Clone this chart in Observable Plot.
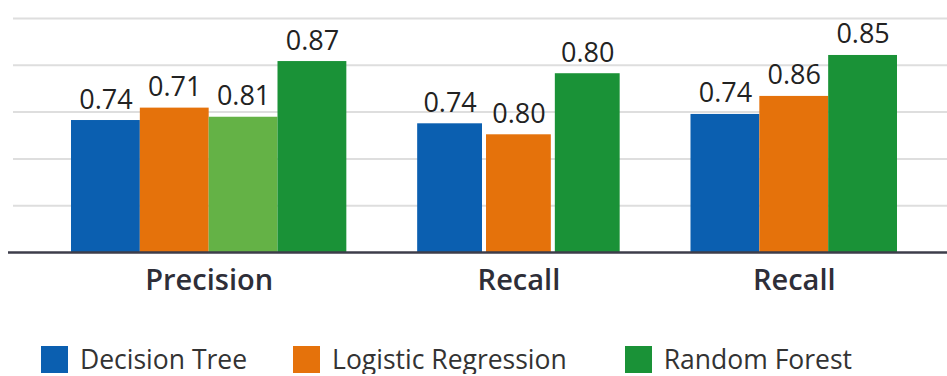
<!DOCTYPE html>
<html><head><meta charset="utf-8">
<script src="https://cdn.jsdelivr.net/npm/d3@7"></script>
<script src="https://cdn.jsdelivr.net/npm/@observablehq/plot@0.6"></script>
<style>
body{margin:0;background:#fff;font-family:"Open Sans",sans-serif;overflow:hidden;}
#legend{display:flex;align-items:center;padding-left:41px;padding-top:26px;}
.item{display:flex;align-items:center;font-size:26.5px;line-height:30px;color:#333;}
.sw{width:27px;height:27px;margin-right:12px;}
</style></head><body><div id="chart"></div><div id="legend"></div>
<script>
// Data
const groupKeys = ["g1","g2","g3"];
const groupNames = ["Precision","Recall","Recall"];
const seriesNames = ["Decision Tree","Logistic Regression","Random Forest"];
const seriesColors = ["#0b5fb0","#e5720b","#1a9237"];
const extraSeries = "Extra";
const extraColor = "#64b246";
const barGroup = ["g1","g1","g1","g1","g2","g2","g2","g3","g3","g3"];
const barSeries = ["Decision Tree","Logistic Regression","Extra","Random Forest","Decision Tree","Logistic Regression","Random Forest","Decision Tree","Logistic Regression","Random Forest"];
const barHeights = [0.564,0.617,0.578,0.816,0.550,0.503,0.764,0.590,0.667,0.842];
const barLabels = ["0.74","0.71","0.81","0.87","0.74","0.80","0.80","0.74","0.86","0.85"];
const gridTicks = [0.2,0.4,0.6,0.8,1.0];

// Build table
const bars = barGroup.map((g,i)=>({group:g, series:barSeries[i], key:g+"|"+barSeries[i], h:barHeights[i], label:barLabels[i]}));
const xDomain = [];
groupKeys.forEach((g,gi)=>{
  bars.filter(b=>b.group===g).forEach(b=>xDomain.push(b.key));
  if (gi < groupKeys.length-1) xDomain.push("gap"+gi);
});
const groupLabels = groupKeys.map((g,gi)=>{
  const gb = bars.filter(b=>b.group===g);
  const mid = gb[Math.floor((gb.length-1)/2)];
  return {key:mid.key, name:groupNames[gi], even: gb.length%2===0};
});

const W = 947, H = 318, baseY = 252, left = 71, right = 50;
const bw = (W-left-right)/xDomain.length;

const chart = Plot.plot({
  width: W, height: H,
  marginTop: 18, marginBottom: H-baseY, marginLeft: left, marginRight: right,
  style: {fontFamily: "'Open Sans', sans-serif", background: "#fff"},
  x: {domain: xDomain, padding: 0, round: false, axis: null},
  y: {domain: [0,1], axis: null},
  color: {domain: [...seriesNames, extraSeries], range: [...seriesColors, extraColor]},
  marks: [
    Plot.ruleY(gridTicks, {stroke:"#dedede", strokeWidth:2, insetLeft:-58, insetRight:-right}),
    Plot.barY(bars.filter(b=>b.group!=="g2"), {x:"key", y:"h", fill:"series"}),
    Plot.barY(bars.filter(b=>b.group==="g2"), {x:"key", y:"h", fill:"series", insetLeft:2, insetRight:2}),
    Plot.ruleY([0], {stroke:"#3d3d4a", strokeWidth:2.5, insetLeft:-63, insetRight:-right}),
    Plot.text(bars, {x:"key", y:"h", text:"label", dy:-12, lineAnchor:"bottom", fontSize:27, fontWeight:500, fill:"#222"}),
    Plot.text(groupLabels.filter(d=>d.even), {x:"key", y:0, text:"name", dx:bw/2, dy:28, lineAnchor:"middle", fontSize:29, fontWeight:600, fill:"#2e2e38"}),
    Plot.text(groupLabels.filter(d=>!d.even), {x:"key", y:0, text:"name", dy:28, lineAnchor:"middle", fontSize:29, fontWeight:600, fill:"#2e2e38"})
  ]
});
document.getElementById("chart").appendChild(chart);

const legend = document.getElementById("legend");
const legendGaps = [46, 58, 0];
seriesNames.forEach((s,i)=>{
  const it = document.createElement("div"); it.className="item";
  it.style.marginRight = legendGaps[i] + "px";
  const sw = document.createElement("div"); sw.className="sw"; sw.style.background=seriesColors[i];
  const t = document.createElement("span"); t.textContent = s;
  it.appendChild(sw); it.appendChild(t); legend.appendChild(it);
});
</script></body></html>
